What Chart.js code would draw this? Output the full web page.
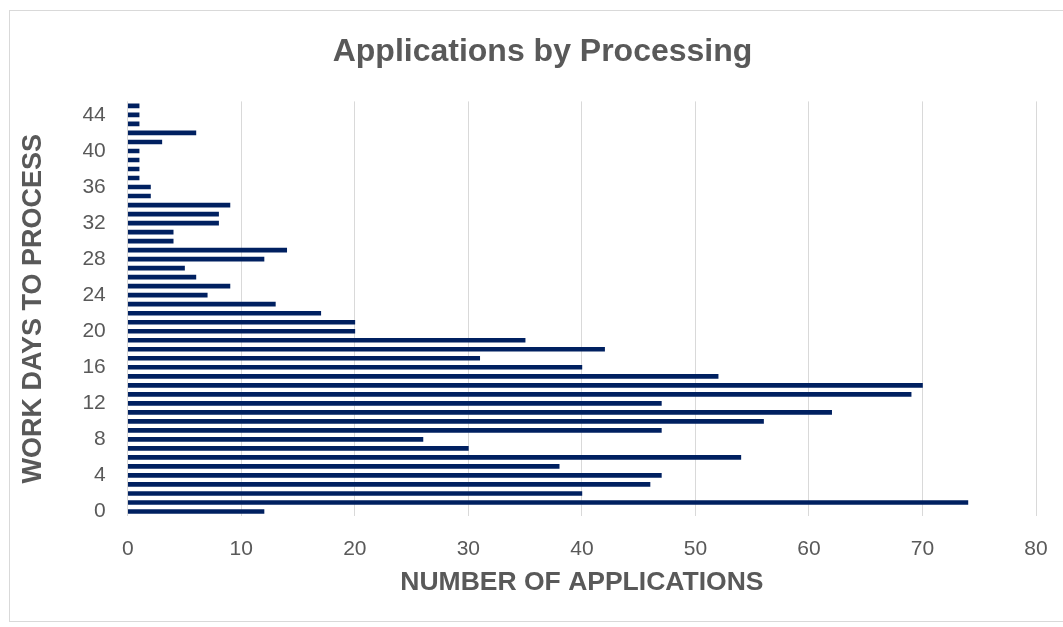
<!DOCTYPE html>
<html>
<head>
<meta charset="utf-8">
<script src="https://cdn.jsdelivr.net/npm/chart.js@4"></script>
<style>
  html, body { margin: 0; padding: 0; background: #ffffff; overflow: hidden; width: 1063px; height: 627px; }
  #frame { position: absolute; left: 9px; top: 10px; width: 1060px; height: 612px; border: 1px solid #d9d9d9; box-sizing: border-box; overflow: hidden; }
  #wrap { position: absolute; left: 0; top: 0; width: 1070px; height: 610px; }
</style>
</head>
<body>
<div id="frame"><div id="wrap"><canvas id="c"></canvas></div></div>
<script>
const workDays = [0,1,2,3,4,5,6,7,8,9,10,11,12,13,14,15,16,17,18,19,20,21,22,23,24,25,26,27,28,29,30,31,32,33,34,35,36,37,38,39,40,41,42,43,44,45];
const applications = [12,74,40,46,47,38,54,30,26,47,56,62,47,69,70,52,40,31,42,35,20,20,17,13,7,9,6,5,12,14,4,4,8,8,9,2,2,1,1,1,1,3,6,1,1,1];
const xTicks = [0,10,20,30,40,50,60,70,80];
const chartTitle = 'Applications by Processing';
const xTitle = 'NUMBER OF APPLICATIONS';
const yTitle = 'WORK DAYS TO PROCESS';

const font = '"Liberation Sans", Arial, sans-serif';
const grey = '#595959';

new Chart(document.getElementById('c'), {
  type: 'bar',
  data: {
    labels: workDays.map(String),
    datasets: [{
      data: applications,
      backgroundColor: '#002060',
      borderWidth: 0,
      barThickness: 4
    }]
  },
  options: {
    indexAxis: 'y',
    responsive: true,
    maintainAspectRatio: false,
    animation: false,
    layout: { padding: { left: 3, right: 8, top: 12, bottom: 22 } },
    plugins: {
      legend: { display: false },
      tooltip: { enabled: false },
      title: {
        display: true,
        text: chartTitle,
        color: grey,
        font: { family: font, size: 32, weight: 'bold' },
        padding: { top: 10, bottom: 30 }
      }
    },
    scales: {
      x: {
        min: xTicks[0],
        max: xTicks[xTicks.length - 1],
        afterBuildTicks: (s) => { s.ticks = xTicks.map(v => ({ value: v })); },
        afterFit: (s) => { s.paddingRight = 44; },
        grid: { color: '#d9d9d9', lineWidth: 1, drawTicks: false },
        border: { display: false },
        ticks: { color: grey, font: { family: font, size: 21 }, padding: 21 },
        title: {
          display: true,
          text: xTitle,
          color: grey,
          font: { family: font, size: 26.5, weight: 'bold' },
          padding: { top: -16, bottom: 0 }
        }
      },
      y: {
        reverse: true,
        grid: { display: false, drawTicks: false },
        border: { display: false },
        ticks: {
          color: grey,
          font: { family: font, size: 21 },
          padding: 22,
          autoSkip: false,
          callback: function (v, i) { return i % 4 === 0 ? this.getLabelForValue(v) : ''; }
        },
        title: {
          display: true,
          text: yTitle,
          color: grey,
          font: { family: font, size: 27, weight: 'bold' },
          padding: { top: 4, bottom: 11 }
        }
      }
    }
  }
});
</script>
</body>
</html>
